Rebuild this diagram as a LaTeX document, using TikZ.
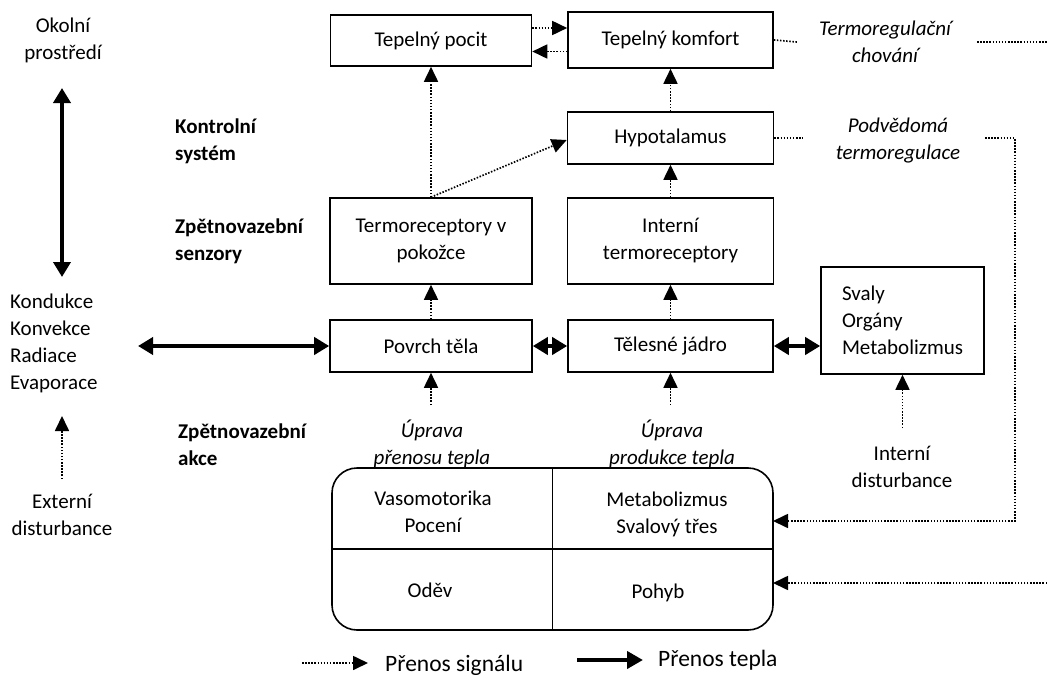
\documentclass[tikz,border=0pt]{standalone}
\usepackage{fontspec}
\setmainfont{Carlito}
\usetikzlibrary{arrows.meta,calc}
\begin{document}
\begin{tikzpicture}[x=1pt,y=-1pt,
  every node/.style={font=\fontsize{21}{27}\selectfont, align=center, inner sep=0pt},
  box/.style={draw, line width=1.6pt},
  sig/.style={line width=1.7pt, dash pattern=on 1.5pt off 1.6pt, -{Triangle[length=15pt,width=14pt]}},
  sigline/.style={line width=1.7pt, dash pattern=on 1.5pt off 1.6pt},
  heat/.style={line width=4.5pt, {Triangle[length=15pt,width=17pt]}-{Triangle[length=15pt,width=17pt]}},
  heatone/.style={line width=4.5pt, -{Triangle[length=16pt,width=17pt]}},
  lbl/.style={font=\fontsize{21}{27}\selectfont\bfseries, align=left, anchor=west},
  itl/.style={font=\fontsize{21}{27}\selectfont\itshape},
  leg/.style={font=\fontsize{23.5}{28}\selectfont, anchor=west},
]
\fill[white] (0,0) rectangle (1047,677);
\useasboundingbox (0,0) rectangle (1047,677);

% boxes
\node[box, minimum width=201pt, minimum height=51pt] (pocit) at (431,40.5) {Tepelný pocit};
\node[box, minimum width=205pt, minimum height=56pt] (komfort) at (670.5,40) {Tepelný komfort};
\node[box, minimum width=206pt, minimum height=52pt] (hypo) at (670.5,138) {Hypotalamus};
\node[box, minimum width=202pt, minimum height=86pt] (termo) at (431,241) {Termoreceptory v\\pokožce};
\node[box, minimum width=206pt, minimum height=86pt] (intern) at (670.5,241) {Interní\\termoreceptory};
\node[box, minimum width=202pt, minimum height=52pt] (povrch) at (431,346) {Povrch těla};
\node[box, minimum width=205pt, minimum height=52pt] (jadro) at (670.5,346) {Tělesné jádro};
\node[box, minimum width=163pt, minimum height=107pt, text width=121pt, inner xsep=21pt, align=left] (svaly) at (902.5,320.5) {Svaly\\Orgány\\Metabolizmus};

% action box
\node[draw, line width=1.6pt, rounded corners=25pt, minimum width=441pt, minimum height=162pt] (act) at (552.5,549) {};
\draw[line width=1.6pt] (act.north) -- (act.south);
\draw[line width=1.6pt] (act.west) -- (act.east);
\node (vaso) at (433,512) {Vasomotorika\\Pocení};
\node (meta) at (667,514) {Metabolizmus\\Svalový třes};
\node (odev) at (430,590) {Oděv};
\node (pohyb) at (658,593) {Pohyb};

% left column texts
\node (env) at (63,40) {Okolní\\prostředí};
\node (modes) [align=left, anchor=west] at (10,343.5) {Kondukce\\Konvekce\\Radiace\\Evaporace};
\node (ext) at (62,515) {Externí\\disturbance};
\node[lbl] (kontrol) at (175,141) {Kontrolní\\systém};
\node[lbl] (senz) at (175,241) {Zpětnovazební\\senzory};
\node[lbl] (akce) at (178,445) {Zpětnovazební\\akce};

% other texts
\node[itl] (up1) at (432,443.5) {Úprava\\přenosu tepla};
\node[itl] (up2) at (672,443.5) {Úprava\\produkce tepla};
\node[itl] (tchov) at (885,42) {Termoregulační\\chování};
\node[itl] (podv) at (898,141) {Podvědomá\\termoregulace};
\node (intd) at (902,466.5) {Interní\\disturbance};

% coordinates
\coordinate (envA) at (62,88);
\coordinate (envB) at (62,277);
\coordinate (heatL) at (138,346);
\coordinate (extA) at (62,479);
\coordinate (extB) at (62,416);
\coordinate (up1A) at (431,405);
\coordinate (up2A) at (670.5,405);
\coordinate (intdA) at (902.5,428);
\coordinate (tcA) at (797,42);
\coordinate (tcB) at (977,42);
\coordinate (tcC) at (1047,42);
\coordinate (pvA) at (803,138);
\coordinate (pvB) at (985,138);
\coordinate (pvC) at (1015,138);
\coordinate (pvD) at (1015,521);
\coordinate (actA) at (773,521);
\coordinate (rgt) at (1047,583);
\coordinate (actB) at (773,583);
\coordinate (legA) at (302,663);
\coordinate (legB) at (368,663);
\coordinate (legC) at (577,660);
\coordinate (legD) at (643,660);

% heat arrows
\draw[heat] (envA) -- (envB);
\draw[heat] (heatL) -- (povrch.west);
\draw[heat] (povrch.east) -- (jadro.west);
\draw[heat] (jadro.east) -- (jadro.east -| svaly.west);

% signal arrows
\draw[sig] ([yshift=12.5pt]pocit.east) -- ([yshift=12.5pt]pocit.east -| komfort.west);
\draw[sig] ([yshift=-11.5pt]komfort.west) -- ([yshift=-11.5pt]komfort.west -| pocit.east);
\draw[sig] (termo.north) -- (pocit.south);
\draw[sig] (termo.north) -- ([yshift=-2pt]hypo.west);
\draw[sig] (hypo.north) -- (komfort.south);
\draw[sig] (intern.north) -- (hypo.south);
\draw[sig] (povrch.north) -- (termo.south);
\draw[sig] (jadro.north) -- (intern.south);
\draw[sig] (up1A) -- (povrch.south);
\draw[sig] (up2A) -- (jadro.south);
\draw[sig] (intdA) -- (svaly.south);
\draw[sig] (extA) -- (extB);
\draw[sigline] (komfort.east) -- (tcA);
\draw[sigline] (tcB) -- (tcC);
\draw[sigline] (hypo.east) -- (pvA);
\draw[sig] (pvB) -- (pvC) -- (pvD) -- (actA);
\draw[sig] (rgt) -- (actB);

% legend
\draw[sig] (legA) -- (legB);
\node[leg] (legsig) at (385,665) {Přenos signálu};
\draw[heatone] (legC) -- (legD);
\node[leg] (legheat) at (658,660) {Přenos tepla};
\end{tikzpicture}
\end{document}
